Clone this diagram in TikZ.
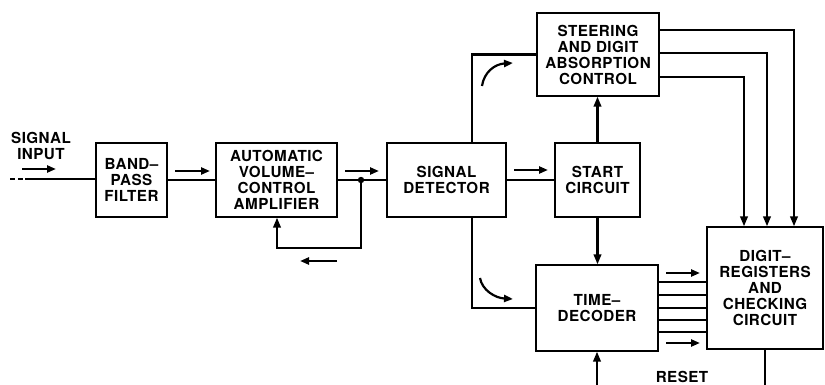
\documentclass[tikz,border=0pt]{standalone}
\usepackage{fontspec}
\setmainfont{TeX Gyre Heros}[LetterSpace=3]
\usetikzlibrary{arrows.meta}
\begin{document}
\begin{tikzpicture}[x=1pt,y=-1pt,
  lbl/.style={align=center, inner sep=0pt, font=\fontsize{15.2}{16}\selectfont\bfseries},
  box/.style={lbl, draw, line width=1.3pt},
  conn/.style={line width=2.2pt},
  tip/.style={-{Triangle[length=10pt,width=7.5pt]}},
  flow/.style={line width=2.2pt, -{Triangle[length=9pt,width=7pt]}}]
\useasboundingbox (0,0) rectangle (825,385);
% boxes
\node[box, minimum width=71pt,  minimum height=74pt] (bpf)   at (131.5,180) {BAND--\\PASS\\FILTER};
\node[box, minimum width=121pt, minimum height=74pt] (avc)   at (276.5,180) {AUTOMATIC\\VOLUME--\\CONTROL\\AMPLIFIER};
\node[box, minimum width=119pt, minimum height=74pt] (det)   at (446.5,180) {SIGNAL\\DETECTOR};
\node[box, minimum width=85pt,  minimum height=74pt] (start) at (597.5,180) {START\\CIRCUIT};
\node[box, minimum width=122pt, minimum height=83pt] (steer) at (598,54.5) {STEERING\\AND DIGIT\\ABSORPTION\\CONTROL};
\node[box, minimum width=122pt, minimum height=86pt] (td)    at (597,308) {TIME--\\DECODER};
\node[box, minimum width=116pt, minimum height=122pt] (dr)   at (765,288) {DIGIT--\\REGISTERS\\AND\\CHECKING\\CIRCUIT};
\node[lbl] (sig) at (41,146) {SIGNAL\\INPUT};
\node[lbl] (reset) at (682,377) {RESET};
% coordinates
\coordinate (in0) at (10,179);
\coordinate (in1) at (25,179);
\coordinate (jn) at (361,180);
\coordinate (fb) at (277,248);
\coordinate (dx) at (472,0);
\coordinate (rb) at (0,387);
% input
\draw[conn, dash pattern=on 5pt off 3pt] (in0) -- (in1);
\draw[conn] (in1) -- (bpf.west |- in1);
% main chain
\draw[conn] (bpf.east) -- (avc.west);
\draw[conn] (avc.east) -- (det.west);
\fill (jn) circle (3.2pt);
\draw[conn, tip] (jn) |- (fb) -- (avc.south -| fb);
\draw[conn] (det.east) -- (start.west);
\draw[conn] (det.north -| dx) |- (steer.west);
\draw[conn] (det.south -| dx) |- (td.west);
\draw[conn, tip] (start.north) -- (start.north |- steer.south);
\draw[conn, tip] (start.south) -- (start.south |- td.north);
% steering outputs
\draw[conn, tip] (steer.east |- 0,30) -| (dr.north -| 794,0);
\draw[conn, tip] (steer.east |- 0,53) -| (dr.north -| 767,0);
\draw[conn, tip] (steer.east |- 0,77) -| (dr.north -| 744,0);
% decoder outputs
\foreach \yy in {282,295,308,320,332}
  \draw[conn] (td.east |- 0,\yy) -- (dr.west |- 0,\yy);
% reset
\draw[conn, tip] (dr.south) -- (dr.south |- rb) -| (td.south);
% flow arrows
\draw[flow] (22,169) -- (56,169);
\draw[flow] (175,171) -- (210,171);
\draw[flow] (345,171) -- (379,171);
\draw[flow] (514,170) -- (548,170);
\draw[flow] (337,261) -- (300,261);
\draw[flow] (666,273) -- (700,273);
\draw[flow] (666,343) -- (700,343);
\draw[flow] (482,86) .. controls (484,72) and (495,64) .. (513,63);
\draw[flow] (480,278) .. controls (482,290) and (495,298) .. (513,299);
\end{tikzpicture}
\end{document}
